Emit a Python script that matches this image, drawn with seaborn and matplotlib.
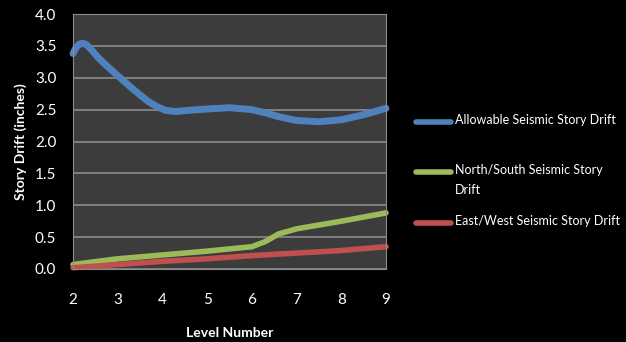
import matplotlib
matplotlib.use("Agg")
import matplotlib.pyplot as plt
import seaborn as sns
import pandas as pd
from matplotlib.lines import Line2D

# Data
allow_x = [2.0, 2.05, 2.1, 2.15, 2.22, 2.3, 2.4, 2.57, 2.75, 2.94, 3.12, 3.31, 3.5, 3.68, 3.87,
           4.06, 4.3, 4.6, 5.0, 5.5, 6.0, 6.3, 6.6, 7.0, 7.5, 8.0, 8.5, 9.0]
allow_y = [3.38, 3.45, 3.50, 3.53, 3.54, 3.52, 3.45, 3.31, 3.19, 3.07, 2.96, 2.84, 2.73, 2.63, 2.55,
           2.49, 2.47, 2.49, 2.51, 2.53, 2.50, 2.45, 2.39, 2.33, 2.31, 2.34, 2.42, 2.52]
ns_x = [2, 3, 4, 5, 6, 6.3, 6.6, 7, 7.5, 8, 9]
ns_y = [0.07, 0.16, 0.22, 0.28, 0.35, 0.43, 0.55, 0.63, 0.69, 0.75, 0.88]
ew_x = [2, 3, 4, 5, 6, 7, 8, 9]
ew_y = [0.02, 0.07, 0.12, 0.16, 0.21, 0.25, 0.29, 0.35]
series_names = ["Allowable Seismic Story Drift",
                "North/South Seismic Story\nDrift",
                "East/West Seismic Story Drift"]
colors = ["#4F81BD", "#9BBB59", "#C0504D"]
x_ticks = [2, 3, 4, 5, 6, 7, 8, 9]
y_ticks = [0.0, 0.5, 1.0, 1.5, 2.0, 2.5, 3.0, 3.5, 4.0]

df = pd.concat([
    pd.DataFrame({"Level": allow_x, "Drift": allow_y, "Series": series_names[0]}),
    pd.DataFrame({"Level": ns_x, "Drift": ns_y, "Series": series_names[1]}),
    pd.DataFrame({"Level": ew_x, "Drift": ew_y, "Series": series_names[2]}),
])

sns.set_theme(style="dark")
plt.rcParams["font.family"] = ["Lato", "DejaVu Sans"]

W, H = 626, 342
fig = plt.figure(figsize=(W / 100, H / 100), dpi=100, facecolor="black")
ax = fig.add_axes([73 / W, 73 / H, 313 / W, 255 / H])
ax.set_facecolor("#3c3c3c")

sns.lineplot(data=df, x="Level", y="Drift", hue="Series", palette=colors,
             hue_order=series_names, ax=ax, linewidth=4.5, sort=False,
             solid_capstyle="round", solid_joinstyle="round", legend=False)
for line, lw in zip(ax.get_lines(), [5.0, 4.0, 4.0]):
    line.set_linewidth(lw)
    line.set_clip_on(False)

ax.set_xlim(2, 9)
ax.set_ylim(0, 4)
ax.set_xticks(x_ticks)
ax.set_yticks(y_ticks)
ax.set_yticklabels([f"{v:.1f}" for v in y_ticks])
ax.grid(axis="y", color="#8c8c8c", linewidth=1.2)
ax.grid(axis="x", visible=False)
ax.set_axisbelow(True)
for s in ax.spines.values():
    s.set_visible(True)
    s.set_color("#8c8c8c")
    s.set_linewidth(0.8)

ax.tick_params(axis="x", colors="white", labelsize=11, pad=17, length=0)
ax.tick_params(axis="y", colors="white", labelsize=11, pad=12, length=0)
ax.set_xlabel("Level Number", color="white", fontsize=10, fontweight="bold", labelpad=15)
ax.set_ylabel("Story Drift (inches)", color="white", fontsize=10, fontweight="bold", labelpad=6)

# legend drawn at the right of the plot area
leg_y = [122, 172, 223]
for name, c, yy in zip(series_names, colors, leg_y):
    fig.add_artist(Line2D([416 / W, 451 / W], [1 - yy / H, 1 - yy / H], color=c,
                          linewidth=4, solid_capstyle="round", transform=fig.transFigure))
    fig.text(455 / W, 1 - (yy - 8) / H, name, color="white", fontsize=9,
             va="top", ha="left", linespacing=1.8)

fig.savefig("out.png", dpi=100, facecolor="black")
